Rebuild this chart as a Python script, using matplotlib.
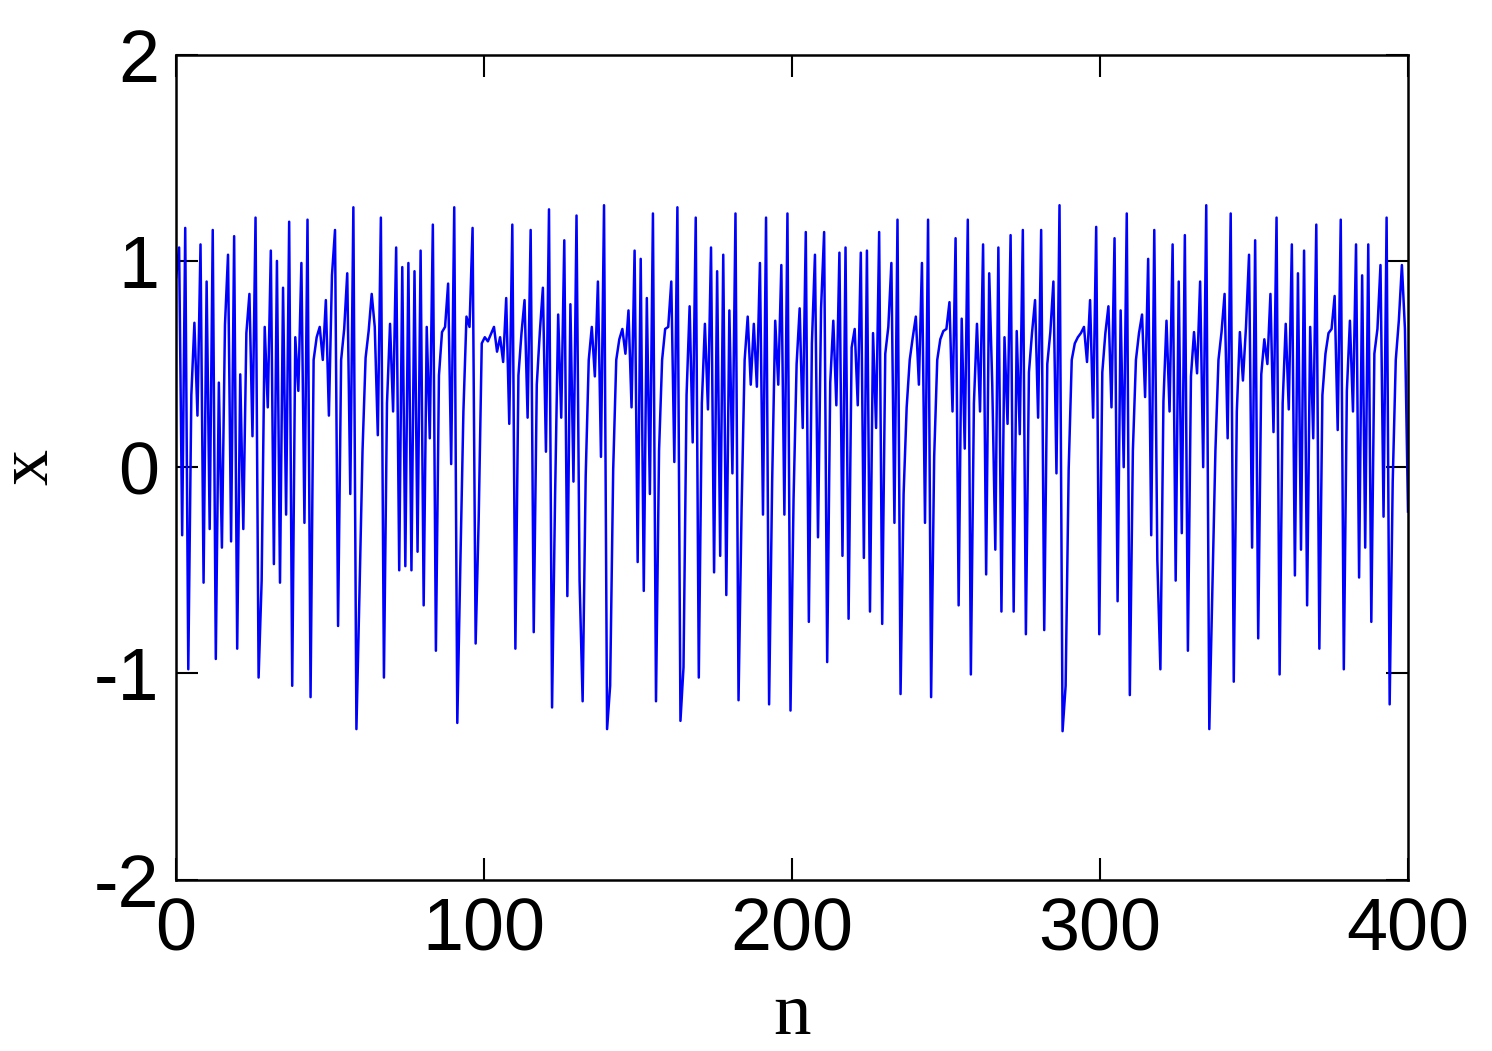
import numpy as np
import matplotlib
matplotlib.use("Agg")
import matplotlib.pyplot as plt

# values, left to right, in blocks of ~33 samples
x_b01 = [0.92, 1.065, -0.33, 1.16, -0.98, 0.35, 0.70, 0.25, 1.08, -0.56, 0.90, -0.30, 1.15, -0.93, 0.41, -0.39, 0.69,
         1.03, -0.36, 1.12, -0.88, 0.45, -0.30, 0.65, 0.84, 0.15, 1.21, -1.02, -0.55, 0.68, 0.29, 1.05, -0.47, 1.00]
x_b02 = [-0.56, 0.87, -0.23, 1.19, -1.06, 0.63, 0.37, 0.99, -0.27, 1.20, -1.115, 0.52, 0.63, 0.68, 0.52, 0.81, 0.25,
         0.93, 1.15, -0.77, 0.52, 0.67, 0.94, -0.13, 1.26, -1.27, -0.61, 0.08, 0.53, 0.66, 0.84, 0.68, 0.155]
x_b03 = [1.21, -1.02, 0.31, 0.695, 0.27, 1.065, -0.50, 0.97, -0.48, 0.99, -0.50, 0.95, -0.41, 1.05, -0.67, 0.68, 0.14,
         1.176, -0.89, 0.445, 0.655, 0.68, 0.89, 0.015, 1.26, -1.24, -0.47, 0.27, 0.73, 0.68, 1.16, -0.855, -0.25, 0.60]
x_b04 = [0.63, 0.61, 0.645, 0.68, 0.56, 0.63, 0.51, 0.82, 0.21, 1.176, -0.88, 0.445, 0.65, 0.81, 0.24, 1.15, -0.80,
         0.40, 0.655, 0.87, 0.075, 1.25, -1.165, -0.13, 0.74, 0.24, 1.10, -0.625, 0.79, -0.07, 1.22, -0.55]
x_b05 = [-1.135, -0.045, 0.52, 0.68, 0.44, 0.90, 0.05, 1.27, -1.27, -1.06, -0.01, 0.52, 0.62, 0.67, 0.55, 0.76, 0.29,
         1.05, -0.46, 1.01, -0.60, 0.82, -0.13, 1.23, -1.135, 0.08, 0.52, 0.67, 0.68, 0.90, 0.025, 1.26, -1.23]
x_b06 = [-0.97, 0.35, 0.78, 0.12, 1.21, -1.02, 0.31, 0.695, 0.28, 1.065, -0.51, 0.95, -0.43, 1.03, -0.62, 0.76, -0.03,
         1.23, -1.13, -0.20, 0.52, 0.73, 0.40, 0.695, 0.39, 0.99, -0.23, 1.21, -1.15, -0.07, 0.71, 0.40, 0.98]
x_b07 = [-0.23, 1.23, -1.18, -0.155, 0.50, 0.77, 0.19, 1.14, -0.75, 0.60, 1.03, -0.34, 0.77, 1.14, -0.945, 0.41, 0.71,
         0.30, 1.04, -0.43, 1.065, -0.735, 0.58, 0.67, 0.30, 1.04, -0.44, 1.05, -0.70, 0.65, 0.19, 1.14, -0.76, 0.55]
x_b08 = [0.68, 0.99, -0.27, 1.20, -1.10, -0.13, 0.29, 0.52, 0.63, 0.73, 0.40, 0.99, -0.27, 1.20, -1.115, 0.05, 0.52,
         0.62, 0.66, 0.67, 0.80, 0.27, 1.11, -0.67, 0.72, 0.09, 1.20, -1.005, 0.31, 0.695, 0.27, 1.08, -0.52, 0.94]
x_b09 = [0.40, -0.40, 1.065, -0.70, 0.63, 0.21, 1.125, -0.70, 0.66, 0.16, 1.15, -0.81, 0.46, 0.65, 0.81, 0.24, 1.15,
         -0.79, 0.50, 0.655, 0.90, -0.03, 1.27, -1.28, -1.06, -0.01, 0.52, 0.60, 0.63, 0.65, 0.68, 0.51, 0.81, 0.24]
x_b10 = [1.165, -0.81, 0.46, 0.65, 0.78, 0.29, 1.11, -0.65, 0.76, 0.0, 1.23, -1.105, 0.08, 0.52, 0.65, 0.74, 0.34,
         1.01, -0.33, 1.15, -0.45, -0.98, 0.32, 0.71, 0.27, 1.08, -0.55, 0.90, -0.32, 1.125, -0.89, 0.44, 0.655, 0.455]
x_b11 = [0.90, 0.0, 1.27, -1.27, -0.60, 0.08, 0.52, 0.655, 0.84, 0.14, 1.23, -1.04, 0.27, 0.655, 0.42, 0.68, 1.03,
         -0.39, 1.10, -0.83, 0.45, 0.62, 0.50, 0.84, 0.17, 1.21, -1.005, 0.31, 0.695, 0.28, 1.08, -0.525, 0.94]
x_b12 = [-0.40, 1.05, -0.67, 0.68, 0.14, 1.176, -0.88, 0.35, 0.55, 0.65, 0.67, 0.83, 0.18, 1.20, -0.98, 0.37, 0.71,
         0.27, 1.08, -0.535, 0.93, -0.39, 1.08, -0.75, 0.55, 0.67, 0.98, -0.24, 1.21, -1.15, -0.07, 0.52, 0.71, 0.98,
         0.67, -0.215]

n_max = 400
x_ticks = [0, 100, 200, 300, 400]
y_ticks = [-2, -1, 0, 1, 2]

x_vals = np.concatenate([x_b01, x_b02, x_b03, x_b04, x_b05, x_b06,
                         x_b07, x_b08, x_b09, x_b10, x_b11, x_b12])
n = np.linspace(0, n_max, len(x_vals))

plt.rcParams['axes.unicode_minus'] = False

fig = plt.figure(figsize=(14.92, 10.51), dpi=100)
ax = fig.add_axes([0.118, 0.163, 0.8257, 0.785])

ax.plot(n, x_vals, color='#0000ff', linewidth=1.8)

ax.set_xlim(0, n_max)
ax.set_ylim(-2, 2)
ax.set_xticks(x_ticks)
ax.set_yticks(y_ticks)
ax.set_xticklabels([str(t) for t in x_ticks])
ax.set_yticklabels([str(t) for t in y_ticks])

ax.tick_params(direction='in', length=16, width=1.5, top=True, right=True,
               labelsize=53, pad=12)
for lab in ax.get_xticklabels() + ax.get_yticklabels():
    lab.set_family('Liberation Sans')
for sp in ax.spines.values():
    sp.set_linewidth(1.8)

ax.set_xlabel('n', fontsize=54, family='Liberation Serif')
ax.set_ylabel('x', fontsize=52, family='Liberation Serif')
ax.xaxis.set_label_coords(0.5, -0.125)
ax.yaxis.set_label_coords(-0.092, 0.5)

fig.savefig('out.png', dpi=100, facecolor='white')
